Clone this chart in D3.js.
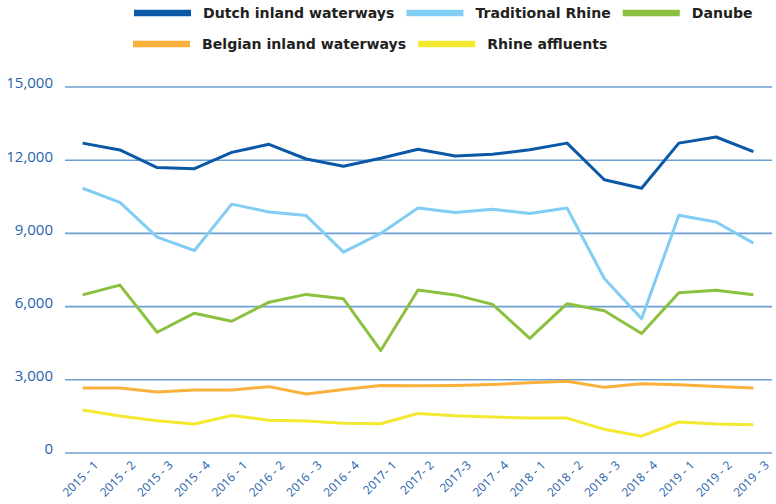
<!DOCTYPE html>
<html>
<head>
<meta charset="utf-8">
<script src="https://cdn.jsdelivr.net/npm/d3@7"></script>
<style>
  body { margin: 0; background: #fff; }
  svg { display: block; }
</style>
</head>
<body>
<script>
// quarters on the x axis (labels kept as printed)
var quarters = ["2015 - 1", "2015 - 2", "2015 - 3", "2015 - 4", "2016 - 1", "2016 - 2", "2016 - 3", "2016 - 4",
  "2017- 1", "2017- 2", "2017-3", "2017 - 4", "2018 - 1", "2018 - 2", "2018 - 3", "2018 - 4",
  "2019 - 1", "2019 - 2", "2019 - 3"];

var yTicks = [0, 3000, 6000, 9000, 12000, 15000];

var dutch = [12700, 12420, 11700, 11650, 12320, 12650, 12050, 11750, 12080, 12450, 12170, 12240, 12430, 12700, 11200, 10850, 12700, 12950, 12350];
var tradRhine = [10850, 10270, 8850, 8300, 10200, 9880, 9730, 8230, 9000, 10040, 9860, 9990, 9820, 10040, 7150, 5500, 9740, 9470, 8600];
var danube = [6480, 6880, 4950, 5730, 5400, 6180, 6500, 6320, 4200, 6680, 6480, 6090, 4700, 6120, 5830, 4900, 6570, 6670, 6490];
var belgian = [2660, 2660, 2500, 2580, 2580, 2720, 2420, 2600, 2770, 2760, 2770, 2810, 2880, 2940, 2690, 2840, 2800, 2730, 2660];
var rhineAffluents = [1760, 1520, 1320, 1190, 1540, 1340, 1310, 1220, 1200, 1620, 1530, 1480, 1430, 1430, 970, 690, 1270, 1190, 1160];

var seriesNames = ["Dutch inland waterways", "Traditional Rhine", "Danube", "Belgian inland waterways", "Rhine affluents"];
var seriesValues = [dutch, tradRhine, danube, belgian, rhineAffluents];
var seriesColors = ["#0a58a6", "#82cdf3", "#8cc03f", "#f9b13b", "#f4e831"];

var width = 776, height = 504;

var svg = d3.select("body").append("svg")
  .attr("width", width)
  .attr("height", height);

var x = d3.scalePoint()
  .domain(quarters)
  .range([64, 772])
  .padding(0.5);

var y = d3.scaleLinear()
  .domain([0, 15000])
  .range([453, 87]);

// gridlines
svg.append("g")
  .selectAll("line")
  .data(yTicks)
  .enter().append("line")
  .attr("x1", 65)
  .attr("x2", 772)
  .attr("y1", function(d) { return y(d); })
  .attr("y2", function(d) { return y(d); })
  .attr("stroke", "#6e9fd1")
  .attr("stroke-width", 1.6);

// y axis labels
var yAxis = d3.axisLeft(y)
  .tickValues(yTicks)
  .tickSize(0)
  .tickPadding(0)
  .tickFormat(d3.format(","));

svg.append("g")
  .attr("transform", "translate(53,-4)")
  .call(yAxis)
  .call(function(g) { g.select(".domain").remove(); })
  .selectAll("text")
  .attr("font-family", "'Open Sans', sans-serif")
  .attr("font-size", 15)
  .attr("fill", "#1f63ad");

// x axis labels, rotated
var xAxis = d3.axisBottom(x).tickSize(0).tickPadding(0);

svg.append("g")
  .attr("transform", "translate(0,466)")
  .call(xAxis)
  .call(function(g) { g.select(".domain").remove(); })
  .selectAll("text")
  .attr("font-family", "'Open Sans', sans-serif")
  .attr("font-size", 12)
  .attr("fill", "#1f63ad")
  .attr("text-anchor", "end")
  .attr("dy", 0)
  .attr("transform", "translate(16,0) rotate(-45)");

// lines
var line = d3.line()
  .x(function(d, i) { return x(quarters[i]); })
  .y(function(d) { return y(d); });

svg.append("g")
  .selectAll("path")
  .data(seriesValues)
  .enter().append("path")
  .attr("d", line)
  .attr("fill", "none")
  .attr("stroke", function(d, i) { return seriesColors[i]; })
  .attr("stroke-width", 3)
  .attr("stroke-linejoin", "round");

// legend, flowed like the original
var legendRows = [[0, 1, 2], [3, 4]];
var rowY = [13, 44];
var rowX = [134, 133];

legendRows.forEach(function(row, r) {
  var cx = rowX[r];
  row.forEach(function(k) {
    var g = svg.append("g");
    g.append("line")
      .attr("x1", cx).attr("x2", cx + 57)
      .attr("y1", rowY[r]).attr("y2", rowY[r])
      .attr("stroke", seriesColors[k])
      .attr("stroke-width", 6.5);
    var t = g.append("text")
      .attr("x", cx + 69)
      .attr("y", rowY[r])
      .attr("dy", "0.36em")
      .attr("font-family", "'DejaVu Sans', sans-serif")
      .attr("font-weight", "bold")
      .attr("font-size", 14.1)
      .attr("fill", "#231f20")
      .text(seriesNames[k]);
    cx = cx + 69 + t.node().getComputedTextLength() + 12;
  });
});
</script>
</body>
</html>
